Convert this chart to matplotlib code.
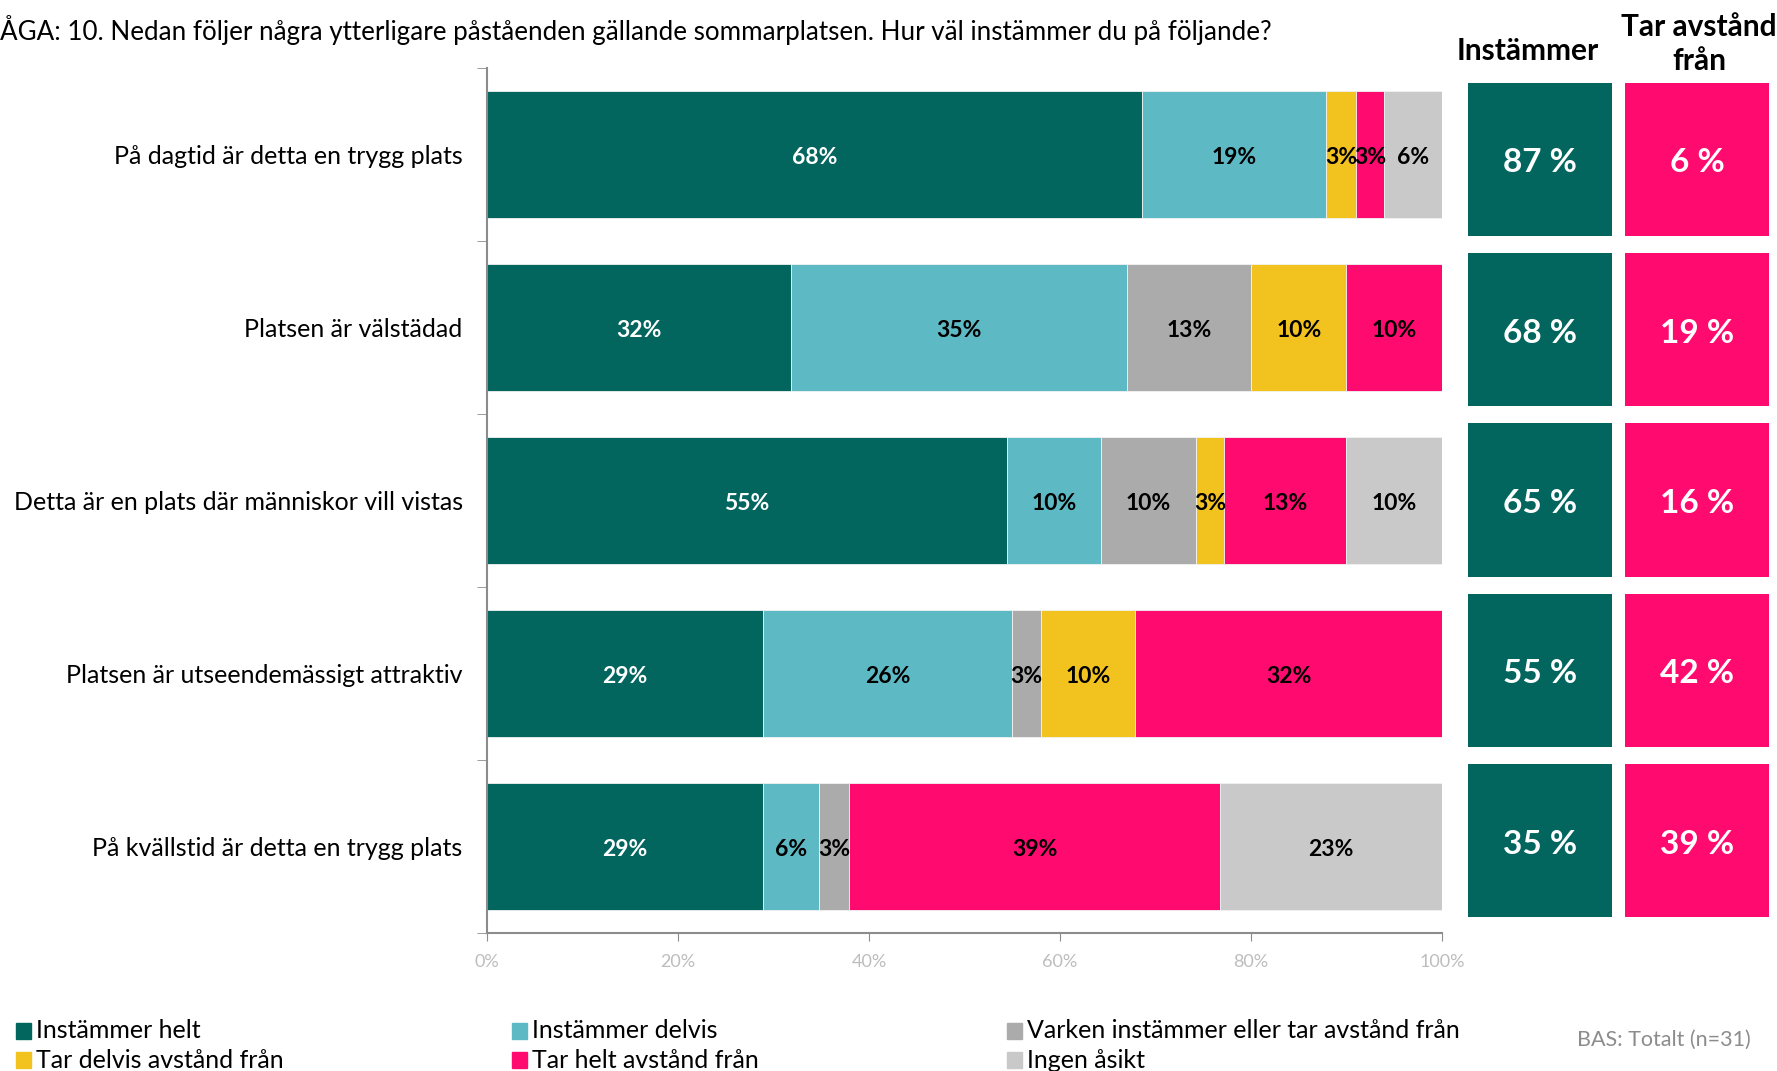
import matplotlib

matplotlib.use("Agg")
import matplotlib.pyplot as plt
import numpy as np

plt.rcParams["font.family"] = ["Lato", "DejaVu Sans"]

# statements, top to bottom
categories = [
    "På dagtid är detta en trygg plats",
    "Platsen är välstädad",
    "Detta är en plats där människor vill vistas",
    "Platsen är utseendemässigt attraktiv",
    "På kvällstid är detta en trygg plats",
]
series_names = [
    "Instämmer helt",
    "Instämmer delvis",
    "Varken instämmer eller tar avstånd från",
    "Tar delvis avstånd från",
    "Tar helt avstånd från",
    "Ingen åsikt",
]
# segment widths (%), one list per series
instammer_helt = [68.6, 31.8, 54.4, 28.9, 28.9]
instammer_delvis = [19.3, 35.2, 9.9, 26.1, 5.9]
varken = [0.0, 13.0, 9.9, 3.0, 3.1]
tar_delvis = [3.1, 10.0, 3.0, 9.9, 0.0]
tar_helt = [2.9, 10.0, 12.8, 32.1, 38.9]
ingen_asikt = [6.1, 0.0, 10.0, 0.0, 23.2]
# printed labels inside the bars
lbl_helt = [68, 32, 55, 29, 29]
lbl_delvis = [19, 35, 10, 26, 6]
lbl_varken = [0, 13, 10, 3, 3]
lbl_tar_delvis = [3, 10, 3, 10, 0]
lbl_tar_helt = [3, 10, 13, 32, 39]
lbl_ingen = [6, 0, 10, 0, 23]
# summary boxes
summary_instammer = [87, 68, 65, 55, 35]
summary_avstand = [6, 19, 16, 42, 39]

colors = ["#02665F", "#5DBAC5", "#ABABAB", "#F2C21E", "#FF0A6E", "#C9C9C9"]
label_colors = ["white", "black", "black", "black", "black", "black"]

W, H = 1777, 1071
fig = plt.figure(figsize=(W / 100, H / 100), dpi=100)


def box(x0, y0, x1, y1):
    # pixel box (from top-left) -> figure axes rect
    return [x0 / W, 1 - y1 / H, (x1 - x0) / W, (y1 - y0) / H]


ax = fig.add_axes(box(487, 68, 1442, 933))
y = np.arange(len(categories))
widths = [instammer_helt, instammer_delvis, varken, tar_delvis, tar_helt, ingen_asikt]
labels = [lbl_helt, lbl_delvis, lbl_varken, lbl_tar_delvis, lbl_tar_helt, lbl_ingen]
left = np.zeros(len(categories))
for name, w, lab, c, tc in zip(series_names, widths, labels, colors, label_colors):
    w = np.array(w)
    ax.barh(y, w, left=left, height=0.73, color=c, edgecolor="#F2F2F2", linewidth=0.6, label=name)
    for yi, (l, wi, li) in enumerate(zip(left, w, lab)):
        if wi > 0:
            ax.text(l + wi / 2, yi + 0.02, f"{li}%", ha="center", va="center",
                    fontsize=16.5, fontweight="bold", color=tc)
    left = left + w

ax.set_xlim(0, 100)
ax.set_ylim(len(categories) - 0.5, -0.5)
ax.set_yticks(y)
ax.set_yticklabels(categories, fontsize=18)
ax.set_yticks(np.arange(-0.5, len(categories)), minor=True)
ax.tick_params(axis="y", which="major", length=0, pad=17.5)
ax.tick_params(axis="y", which="minor", length=7, color="#8C8C8C", direction="out")
ax.set_xticks(np.arange(0, 101, 20))
ax.set_xticklabels([f"{v}%" for v in range(0, 101, 20)])
ax.tick_params(axis="x", length=6, color="#8C8C8C", labelcolor="#BDBDBD",
               labelsize=13, pad=9)
for s in ["top", "right"]:
    ax.spines[s].set_visible(False)
for s in ["left", "bottom"]:
    ax.spines[s].set_color("#8C8C8C")
    ax.spines[s].set_linewidth(1.5)

# summary boxes on the right
for (x0, x1), vals, c, head, hx, hy in [
    ((1468, 1612), summary_instammer, colors[0], "Instämmer", 1528, 51),
    ((1625, 1769), summary_avstand, colors[4], "Tar avstånd\nfrån", 1699, 44),
]:
    bx = fig.add_axes(box(x0, 74, x1, 926))
    bx.barh(y, [1] * len(y), height=0.9, color=c)
    for yi, v in enumerate(vals):
        bx.text(0.5, yi + 0.02, f"{v} %", ha="center", va="center", color="white",
                fontsize=24, fontweight="bold")
    bx.set_xlim(0, 1)
    bx.set_ylim(len(categories) - 0.5, -0.5)
    bx.axis("off")
    fig.text(hx / W, 1 - hy / H, head, ha="center", va="center",
             fontsize=21.5, fontweight="bold", linespacing=1.3)

fig.text(0, 1 - 30 / H,
         "ÅGA: 10. Nedan följer några ytterligare påståenden gällande sommarplatsen. "
         "Hur väl instämmer du på följande?",
         ha="left", va="center", fontsize=18.7)

# legend, two rows of three
handles, hlabels = ax.get_legend_handles_labels()
col_x = [14, 452, 889]
for i, (h, t) in enumerate(zip(handles, hlabels)):
    cx = col_x[i % 3] / 1568 * W
    cy = 1031 if i < 3 else 1060
    fig.patches.append(plt.Rectangle(((cx) / W, 1 - (cy + 8) / H), 15 / W, 16 / H,
                                     transform=fig.transFigure, color=colors[i]))
    fig.text((cx + 20) / W, 1 - cy / H, t, ha="left", va="center", fontsize=18)

fig.text(1751 / W, 1 - 1040 / H, "BAS: Totalt (n=31)", ha="right", va="center",
         fontsize=15.5, color="#8C8C8C")

fig.savefig("out.png", dpi=100)
